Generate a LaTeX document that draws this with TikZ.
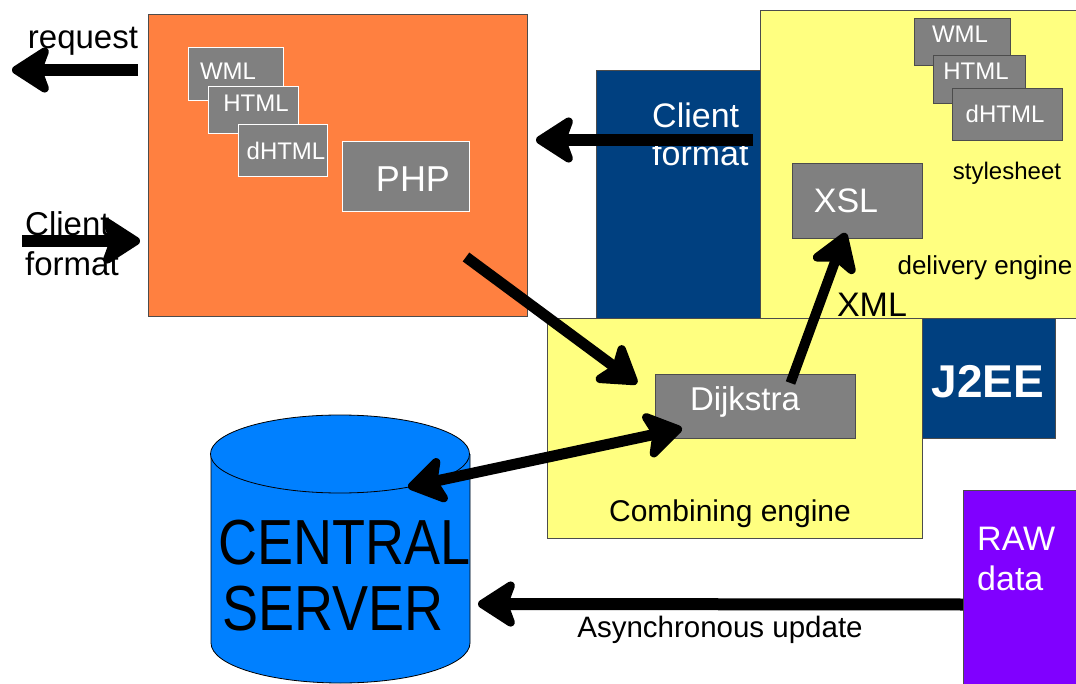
\documentclass[tikz,border=0pt]{standalone}
\usepackage{fontspec}
\setmainfont{Liberation Sans}
\usetikzlibrary{arrows.meta}

\definecolor{phporange}{HTML}{FF8040}
\definecolor{navyblue}{HTML}{004080}
\definecolor{paleyellow}{HTML}{FFFF80}
\definecolor{rawpurple}{HTML}{8000FF}
\definecolor{serverblue}{HTML}{0080FF}
\definecolor{boxgray}{HTML}{808080}

\tikzset{
  panel/.style={draw=black!70, line width=1pt, inner sep=0pt, anchor=north west},
  fmtbox/.style={panel, fill=boxgray},
  fmtwhite/.style={fmtbox, draw=white},
  txt/.style={inner sep=0pt, anchor=base},
  bighead/.tip={Stealth[length=44pt,width=56pt,inset=10pt,round]},
  bigarrow/.style={line width=12pt, -bighead},
  twoarrow/.style={line width=11pt, bighead-bighead}
}

\begin{document}
\begin{tikzpicture}[x=1pt,y=-1pt]
  \useasboundingbox (0,0) rectangle (1076,684);

  % PHP side
  \node[panel, fill=phporange, minimum width=379pt, minimum height=302pt] (orange) at (148,14) {};
  \node[fmtwhite, minimum width=95pt, minimum height=53pt] (wmlA) at (188,47) {};
  \node[txt, text=white, font=\fontsize{24}{28}\selectfont] (wmlAt) at (228,80) {WML};
  \node[fmtwhite, minimum width=90pt, minimum height=47pt] (htmlA) at (208,86) {};
  \node[txt, text=white, font=\fontsize{24}{28}\selectfont] (htmlAt) at (256,112) {HTML};
  \node[fmtwhite, minimum width=89pt, minimum height=52pt] (dhtmlA) at (238,124) {};
  \node[txt, text=white, font=\fontsize{24}{28}\selectfont] (dhtmlAt) at (286,160) {dHTML};
  \node[fmtwhite, minimum width=127pt, minimum height=70pt] (php) at (342,141) {};
  \node[txt, text=white, font=\fontsize{36}{40}\selectfont] (phpt) at (413,192) {PHP};

  \node[txt, font=\fontsize{33}{38}\selectfont] (request) at (83,49) {request};
  \node[txt, anchor=base west, align=left, font=\fontsize{33}{40}\selectfont] (clientin) at (25,276) {Client\\format};

  % delivery engine
  \node[panel, fill=navyblue, minimum width=164pt, minimum height=248pt] (navy) at (596,70) {};
  \node[txt, anchor=base west, align=left, text=white, font=\fontsize{34}{38}\selectfont] (clientout) at (652,166) {Client\\format};
  \node[panel, fill=paleyellow, minimum width=330pt, minimum height=308pt] (delivery) at (760,10) {};
  \node[fmtbox, minimum width=96pt, minimum height=47pt] (wmlB) at (914,18) {};
  \node[txt, text=white, font=\fontsize{24}{28}\selectfont] (wmlBt) at (960,43) {WML};
  \node[fmtbox, minimum width=92pt, minimum height=48pt] (htmlB) at (933,55) {};
  \node[txt, text=white, font=\fontsize{24}{28}\selectfont] (htmlBt) at (976,80) {HTML};
  \node[fmtbox, minimum width=110pt, minimum height=52pt] (dhtmlB) at (952,88) {};
  \node[txt, text=white, font=\fontsize{24}{28}\selectfont] (dhtmlBt) at (1005,123) {dHTML};
  \node[txt, font=\fontsize{24}{28}\selectfont] (style) at (1007,180) {stylesheet};
  \node[fmtbox, minimum width=130pt, minimum height=75pt] (xsl) at (792,163) {};
  \node[txt, text=white, font=\fontsize{34}{38}\selectfont] (xslt) at (846,213) {XSL};
  \node[txt, font=\fontsize{26}{30}\selectfont] (deliv) at (985,275) {delivery engine};

  % combining engine
  \node[panel, fill=paleyellow, minimum width=375pt, minimum height=220pt] (combine) at (547,318) {};
  \node[txt, font=\fontsize{30}{34}\selectfont] (combt) at (730,521) {Combining engine};
  \node[fmtbox, minimum width=200pt, minimum height=64pt] (dijkstra) at (655,374) {};
  \node[txt, text=white, font=\fontsize{33}{37}\selectfont] (dijt) at (745,410) {Dijkstra};
  \node[panel, fill=navyblue, minimum width=133pt, minimum height=120pt] (j2ee) at (922,318) {};
  \node[txt, text=white, font=\bfseries\fontsize{46}{50}\selectfont] (j2eet) at (988,398) {J2EE};
  \node[txt, font=\fontsize{34}{38}\selectfont] (xml) at (872,317) {XML};

  % raw data
  \node[panel, fill=rawpurple, minimum width=130pt, minimum height=200pt] (raw) at (963,490) {};
  \node[txt, anchor=base west, align=left, text=white, font=\fontsize{34}{40}\selectfont] (rawt) at (977,590) {RAW\\data};
  \node[txt, font=\fontsize{29.5}{33}\selectfont] (async) at (720,637) {Asynchronous update};

  % central server
  \coordinate (server) at (340,454);
  \fill[serverblue] (211,454) rectangle (470,643);
  \draw[fill=serverblue, line width=0.8pt] (211,454) -- (211,643) arc[start angle=180, end angle=0, x radius=129.5, y radius=40] -- (470,454);
  \draw[fill=serverblue, line width=0.8pt] (server) ellipse [x radius=129.5, y radius=39];
  \node[txt, text depth=0pt, yscale=1.18, font=\fontsize{54}{60}\selectfont] (central) at (345,564) {CENTRAL};
  \node[txt, text depth=0pt, yscale=1.18, font=\fontsize{54}{60}\selectfont] (srvname) at (333,630) {SERVER};

  % connectors
  \coordinate (reqstart) at (138,70);
  \coordinate (reqend) at (12,70);
  \coordinate (cinstart) at (22,241);
  \coordinate (cinend) at (140,241);
  \coordinate (navystart) at ([shift={(-8,70)}]navy.north east);
  \coordinate (navyend) at ([shift={(8,0)}]orange.east |- navystart);
  \coordinate (phpout) at ([shift={(-4,45)}]php.south east);
  \coordinate (dijin) at ([shift={(-18,-23)}]dijkstra.west);
  \coordinate (dijout) at ([shift={(35,9)}]dijkstra.north);
  \coordinate (xslin) at ([shift={(-12,-6)}]xsl.south);
  \coordinate (dijside) at ([shift={(27,22)}]dijkstra.west);
  \coordinate (srvtop) at (408,487);
  \coordinate (rawout) at ([shift={(0,14)}]raw.west);
  \coordinate (srvside) at (478,604);

  \draw[bigarrow] (reqstart) -- (reqend);
  \draw[bigarrow] (cinstart) -- (cinend);
  \draw[bigarrow] (navystart) -- (navyend);
  \draw[bigarrow, line width=11pt] (phpout) -- (dijin);
  \draw[bigarrow, line width=10pt] (dijout) -- (xslin);
  \draw[twoarrow] (dijside) -- (srvtop);
  \draw[bigarrow] (rawout) -- (srvside);
\end{tikzpicture}
\end{document}
